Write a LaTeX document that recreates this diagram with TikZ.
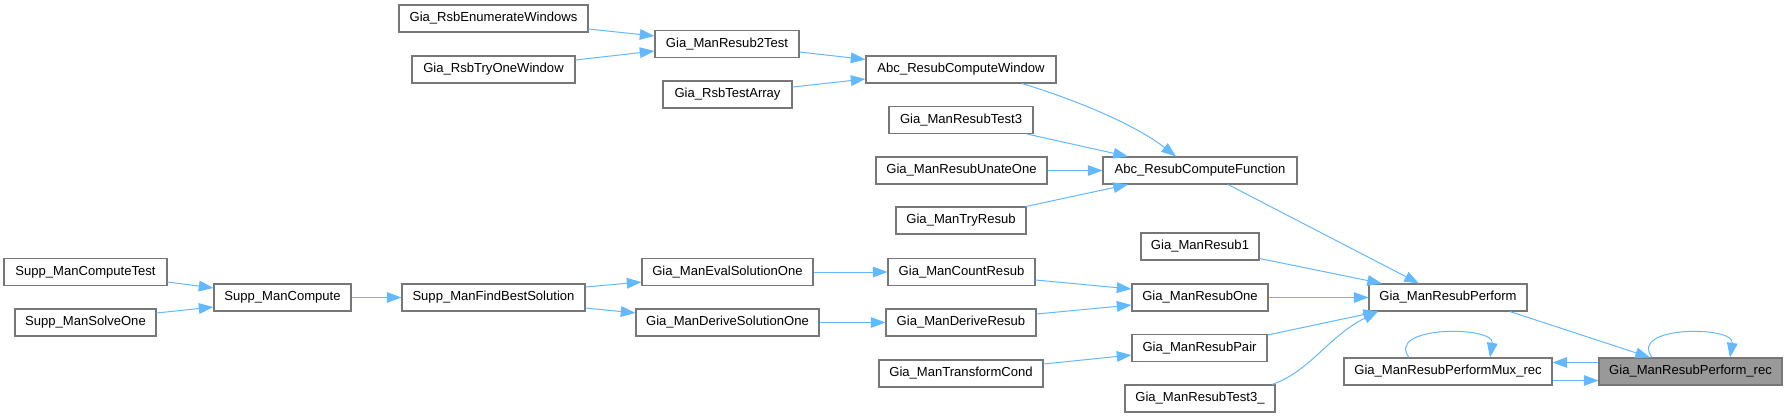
\documentclass[tikz,border=0pt]{standalone}
\usepackage{fontspec}
\setmainfont{Liberation Sans}
\usetikzlibrary{arrows.meta,calc}
\definecolor{edgec}{HTML}{63B8FF}
\definecolor{nodeb}{HTML}{777777}
\definecolor{rootf}{HTML}{999999}
\tikzset{
  fn/.style={draw=nodeb, line width=0.8pt, fill=white, minimum height=20.25pt, inner sep=0pt, text=black, minimum width=#1*0.75pt},
  rootnode/.style={fill=rootf},
  ed/.style={draw=edgec, line width=0.75pt, -{Triangle[length=11pt,width=8pt]}}
}
\begin{document}
\begin{tikzpicture}[x=0.75pt,y=-0.75pt,font=\fontsize{9.8}{11}\selectfont]
\useasboundingbox (0,0) rectangle (1787,417);
% nodes
\node[fn=189] (enw) at (493.5,18.5) {Gia\_RsbEnumerateWindows};
\node[fn=163] (tow) at (493.5,69.5) {Gia\_RsbTryOneWindow};
\node[fn=144] (r2t) at (727,44) {Gia\_ManResub2Test};
\node[fn=129] (rta) at (727.5,94.5) {Gia\_RsbTestArray};
\node[fn=190] (rcw) at (961,69.5) {Abc\_ResubComputeWindow};
\node[fn=144] (rt3) at (961,120) {Gia\_ManResubTest3};
\node[fn=171] (uno) at (961.5,170.5) {Gia\_ManResubUnateOne};
\node[fn=130] (try) at (961,220.5) {Gia\_ManTryResub};
\node[fn=194] (rcf) at (1200,170.5) {Abc\_ResubComputeFunction};
\node[fn=163] (sct) at (85.5,272) {Supp\_ManComputeTest};
\node[fn=141] (sso) at (85.5,322.5) {Supp\_ManSolveOne};
\node[fn=137] (smc) at (282.5,297.5) {Supp\_ManCompute};
\node[fn=183] (sfb) at (493.5,297.5) {Supp\_ManFindBestSolution};
\node[fn=171] (eso) at (727.5,272) {Gia\_ManEvalSolutionOne};
\node[fn=183] (dso) at (727.5,322.5) {Gia\_ManDeriveSolutionOne};
\node[fn=147] (cre) at (961.5,272) {Gia\_ManCountResub};
\node[fn=150] (dre) at (961,322.5) {Gia\_ManDeriveResub};
\node[fn=164] (trc) at (961,373.5) {Gia\_ManTransformCond};
\node[fn=118] (rs1) at (1200,246.5) {Gia\_ManResub1};
\node[fn=136] (rso) at (1200,297.5) {Gia\_ManResubOne};
\node[fn=135] (rsp) at (1199.5,348) {Gia\_ManResubPair};
\node[fn=150] (rtu) at (1200,398.5) {Gia\_ManResubTest3\_};
\node[fn=158] (rpf) at (1448,297.5) {Gia\_ManResubPerform};
\node[fn=208] (mux) at (1448,371.5) {Gia\_ManResubPerformMux\_rec};
\node[fn=183,rootnode] (rec) at (1690.5,371.5) {Gia\_ManResubPerform\_rec};
% edges
\draw[ed] ($(enw.east)+(0,10.5)$) -- ($(r2t.west)+(0,-8)$);
\draw[ed] ($(tow.east)+(0,-9.5)$) -- ($(r2t.west)+(0,7)$);
\draw[ed] ($(r2t.east)+(0,8)$) -- ($(rcw.west)+(0,-10)$);
\draw[ed] ($(rta.east)+(0,-7.5)$) -- ($(rcw.west)+(0,9.5)$);
\draw[ed] ($(rcw.south)+(61,0)$) .. controls +(53,16) and +(-41,-32) .. ($(rcf.north)+(-24,0)$);
\draw[ed] ($(rt3.south)+(66,0)$) -- ($(rcf.north)+(-72,0)$);
\draw[ed] (uno.east) -- (rcf.west);
\draw[ed] ($(try.north)+(65,0)$) -- ($(rcf.south)+(-72,0)$);
\draw[ed] ($(rcf.south)+(28,0)$) -- ($(rpf.north)+(-29,0)$);
\draw[ed] ($(sct.east)+(0,10)$) -- ($(smc.west)+(0,-9.5)$);
\draw[ed] ($(sso.east)+(0,-9.5)$) -- ($(smc.west)+(0,9.5)$);
\draw[ed] (smc.east) -- (sfb.west);
\draw[ed] ($(sfb.east)+(0,-10.5)$) -- ($(eso.west)+(0,10)$);
\draw[ed] ($(sfb.east)+(0,10.5)$) -- ($(dso.west)+(0,-9.5)$);
\draw[ed] (eso.east) -- (cre.west);
\draw[ed] (dso.east) -- (dre.west);
\draw[ed] ($(cre.east)+(0,8)$) -- ($(rso.west)+(0,-8.5)$);
\draw[ed] ($(dre.east)+(0,-8.5)$) -- ($(rso.west)+(0,7.5)$);
\draw[ed] ($(trc.east)+(0,-9.5)$) -- ($(rsp.west)+(0,7)$);
\draw[ed] ($(rs1.east)+(0,12)$) -- ($(rpf.north)+(-66,0)$);
\draw[ed] (rso.east) -- (rpf.west);
\draw[ed] ($(rsp.east)+(0,-13)$) -- ($(rpf.south)+(-70,0)$);
\draw[ed] ($(rtu.north)+(72,0)$) .. controls +(38,-13) and +(-50,25) .. ($(rpf.south)+(-70,0)$);
\draw[ed] ($(rpf.south)+(62,0)$) -- ($(rec.north)+(-40.5,0)$);
\draw[ed] ($(rec.west)+(0,-9)$) -- ($(mux.east)+(0,-9)$);
\draw[ed] ($(mux.east)+(0,9)$) -- ($(rec.west)+(0,9)$);
\draw[ed] ($(mux.north)+(-39,0)$) .. controls +(-24,-32) and +(5,-32) .. ($(mux.north)+(42,0)$);
\draw[ed] ($(rec.north)+(-38.5,0)$) .. controls +(-24,-32) and +(5,-32) .. ($(rec.north)+(39.5,0)$);
\end{tikzpicture}
\end{document}
